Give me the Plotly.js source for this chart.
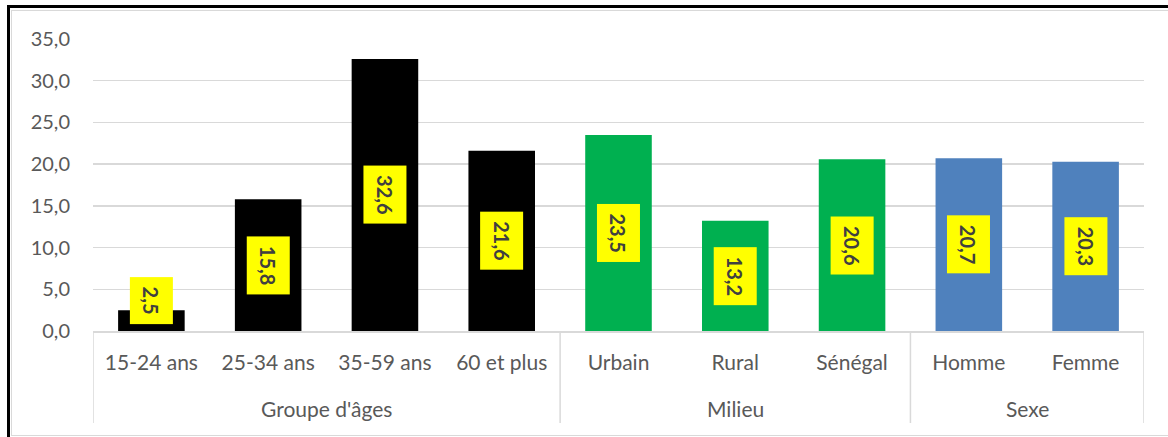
<!DOCTYPE html>
<html>
<head>
<meta charset="utf-8">
<script src="https://cdn.plot.ly/plotly-3.0.1.min.js"></script>
<style>
  html, body { margin: 0; padding: 0; background: #ffffff; }
  #wrap { position: relative; width: 1168px; height: 437px; overflow: hidden; }
  #chart { position: absolute; left: 0; top: 0; width: 1168px; height: 437px; }
  .frame { position: absolute; pointer-events: none; }
</style>
</head>
<body>
<div id="wrap">
  <div id="chart"></div>
  <!-- outer black frame (top and left) -->
  <div class="frame" style="left:7px; top:5px; width:1161px; height:3px; background:#000;"></div>
  <div class="frame" style="left:7px; top:5px; width:3px; height:432px; background:#000;"></div>
  <!-- thin grey chart-area border -->
  <div class="frame" style="left:11px; top:10px; width:1157px; height:1px; background:#d9d9d9;"></div>
  <div class="frame" style="left:11px; top:10px; width:1px; height:426px; background:#d9d9d9;"></div>
  <div class="frame" style="left:11px; top:435px; width:1157px; height:1px; background:#d9d9d9;"></div>
</div>
<script>
// Categories of the horizontal axis and the group each belongs to
const categories = ["15-24 ans", "25-34 ans", "35-59 ans", "60 et plus",
                    "Urbain", "Rural", "Sénégal", "Homme", "Femme"];
const groups = ["Groupe d'âges", "Groupe d'âges", "Groupe d'âges", "Groupe d'âges",
                "Milieu", "Milieu", "Milieu", "Sexe", "Sexe"];
const values = [2.5, 15.8, 32.6, 21.6, 23.5, 13.2, 20.6, 20.7, 20.3];
const barColors = ["#000000", "#000000", "#000000", "#000000",
                   "#00B050", "#00B050", "#00B050", "#4F81BD", "#4F81BD"];
const yTickVals = [0, 5, 10, 15, 20, 25, 30, 35];

const fmt = v => v.toFixed(1).replace('.', ',');
const FONT = 'Lato, "Open Sans", sans-serif';

const margin = { l: 93, r: 24, t: 39, b: 106 };
const yMax = 35;
const plotH = 437 - margin.t - margin.b;
const pxPerUnit = plotH / yMax;

// value labels: yellow boxes, centred in each bar, lifted when the bar is too short
const minCenterPx = 30;
const annotations = values.map((v, i) => ({
  x: categories[i], y: v / 2, xref: 'x', yref: 'y',
  text: '<b>' + fmt(v) + '</b>',
  showarrow: false,
  textangle: 90,
  bgcolor: '#FFFF00',
  borderpad: 9,
  yshift: Math.max(0, minCenterPx - (v / 2) * pxPerUnit),
  font: { family: FONT, size: 20, color: '#404040' }
}));

// group spans (first/last category index) derived from the groups array
const spans = [];
groups.forEach((g, i) => {
  const last = spans[spans.length - 1];
  if (last && last.name === g) last.end = i;
  else spans.push({ name: g, start: i, end: i });
});

const dividerDepth = 92;   // px below the axis line
const groupLabelDepth = 77;
const shapes = [];
spans.forEach((s, k) => {
  if (k === 0) {
    shapes.push({ type: 'line', xref: 'x', yref: 'paper', x0: s.start - 0.5, x1: s.start - 0.5,
                  y0: 0, y1: -dividerDepth / plotH, line: { color: '#d9d9d9', width: 1.5 } });
  }
  shapes.push({ type: 'line', xref: 'x', yref: 'paper', x0: s.end + 0.5, x1: s.end + 0.5,
                y0: 0, y1: -dividerDepth / plotH, line: { color: '#d9d9d9', width: 1.5 } });
  annotations.push({
    x: (s.start + s.end) / 2, y: 0, xref: 'x', yref: 'paper',
    yanchor: 'middle', yshift: -groupLabelDepth,
    text: s.name, showarrow: false,
    font: { family: FONT, size: 21, color: '#595959' }
  });
});

const trace = {
  type: 'bar',
  x: categories,
  y: values,
  marker: { color: barColors, line: { width: 0 } },
  hoverinfo: 'none'
};

const layout = {
  width: 1168, height: 437,
  margin: margin,
  paper_bgcolor: 'rgba(0,0,0,0)',
  plot_bgcolor: '#ffffff',
  bargap: 0.43,
  showlegend: false,
  font: { family: FONT, size: 20, color: '#595959' },
  xaxis: {
    type: 'category',
    range: [-0.5, categories.length - 0.5],
    showline: true, linecolor: '#d9d9d9', linewidth: 1.5,
    ticks: '',
    ticklabelstandoff: 12,
    tickfont: { size: 21, color: '#595959' },
    showgrid: false, zeroline: false
  },
  yaxis: {
    range: [0, yMax],
    tickvals: yTickVals,
    ticktext: yTickVals.map(fmt),
    showgrid: true, gridcolor: '#d9d9d9', gridwidth: 1.5,
    zeroline: false, showline: false, ticks: '',
    ticklabelstandoff: 22,
    tickfont: { size: 20, color: '#595959' }
  },
  shapes: shapes,
  annotations: annotations
};

Plotly.newPlot('chart', [trace], layout, { displayModeBar: false, staticPlot: true });
</script>
</body>
</html>
